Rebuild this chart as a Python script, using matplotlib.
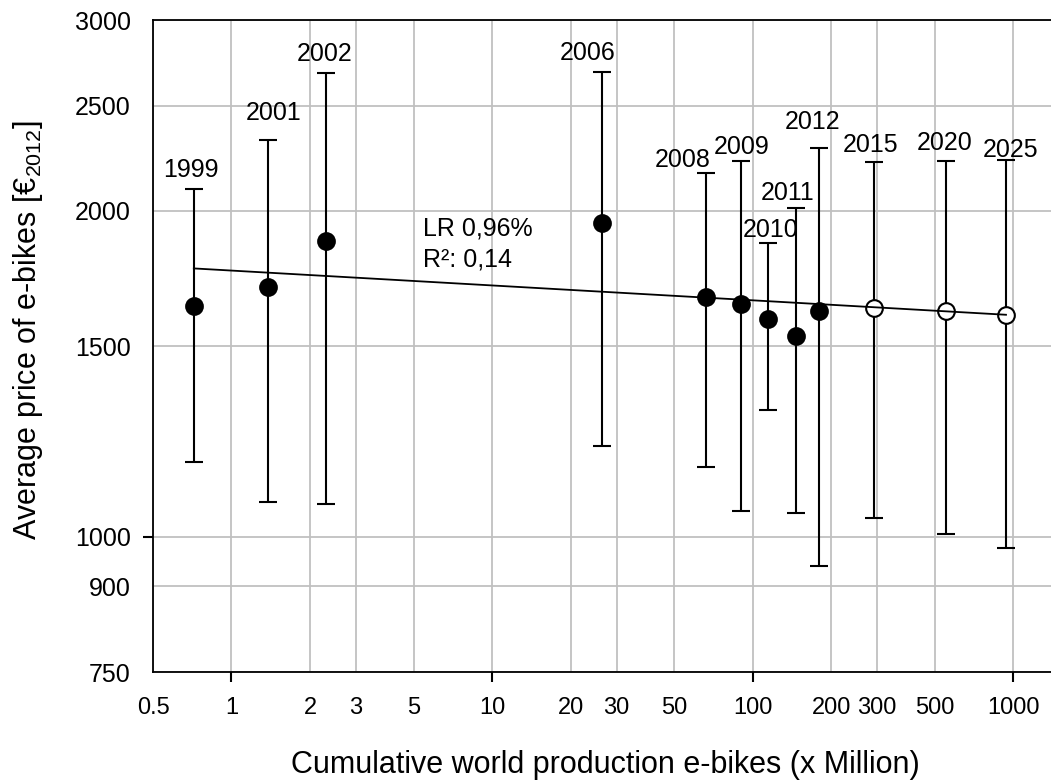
import matplotlib
matplotlib.use('Agg')
import matplotlib.pyplot as plt
from matplotlib.ticker import NullFormatter

plt.rcParams['font.family'] = ['Liberation Sans', 'DejaVu Sans']
plt.rcParams['mathtext.fontset'] = 'custom'
plt.rcParams['mathtext.rm'] = 'Liberation Sans'
plt.rcParams['mathtext.it'] = 'Liberation Sans:italic'

# data
years = ['1999', '2001', '2002', '2006', '2008', '2009', '2010', '2011', '2012',
         '2015', '2020', '2025']
production = [0.717, 1.38, 2.31, 26.3, 66.0, 89.9, 114, 146, 180, 292, 549, 936]
price = [1634, 1701, 1877, 1950, 1664, 1641, 1590, 1532, 1615, 1627, 1615, 1603]
price_high = [2096, 2323, 2682, 2688, 2167, 2224, 1869, 2012, 2285, 2217, 2224, 2227]
price_low = [1171, 1077, 1071, 1213, 1159, 1057, 1310, 1051, 940, 1040, 1005, 976]
forecast = [False] * 9 + [True] * 3

trend_x = [0.717, 936]
trend_y = [1769, 1603]

xtick_vals = [0.5, 1, 2, 3, 5, 10, 20, 30, 50, 100, 200, 300, 500, 1000]
xtick_labels = ['0.5', '1', '2', '3', '5', '10', '20', '30', '50', '100', '200', '300', '500', '1000']
ytick_vals = [750, 900, 1000, 1500, 2000, 2500, 3000]
ytick_labels = ['750', '900', '1000', '1500', '2000', '2500', '3000']

# label offsets in pixels (dx, dy) from the top cap
label_offsets = [(-3, 12), (6, 20), (-2, 12), (-14, 12), (-23, 6), (1, 7), (3, 6),
                 (-8, 8), (-7, 19), (-4, 10), (-1, 11), (5, 3)]

fig = plt.figure(figsize=(10.51, 7.80), dpi=100)
ax = fig.add_axes([153 / 1051, 1 - 672 / 780, 1 - 153 / 1051, (672 - 20) / 780])
ax.set_xscale('log')
ax.set_yscale('log')
ax.set_xlim(0.5, 1393)
ax.set_ylim(750, 3000)

yerr = [[p - lo for p, lo in zip(price, price_low)],
        [hi - p for p, hi in zip(price, price_high)]]
ax.errorbar(production, price, yerr=yerr, fmt='none', ecolor='black',
            elinewidth=1.5, capsize=6.5, capthick=1.5, zorder=2)

for x, y, fc in zip(production, price, forecast):
    ax.plot(x, y, 'o', ms=12, mfc='white' if fc else 'black', mec='black',
            mew=1.5, zorder=3)

ax.plot(trend_x, trend_y, color='black', lw=1.3, zorder=4)

for lab, x, hi, (dx, dy) in zip(years, production, price_high, label_offsets):
    ax.annotate(lab, xy=(x, hi), xytext=(dx, dy), textcoords='offset pixels',
                ha='center', va='baseline', fontsize=18)

ax.text(5.41, 1899, 'LR 0,96%', fontsize=18, va='baseline', ha='left')
ax.text(5.41, 1776, 'R²: 0,14', fontsize=18, va='baseline', ha='left')

ax.set_xticks(xtick_vals)
ax.set_xticklabels(xtick_labels)
ax.set_xticks([1, 10, 100, 1000], minor=True)
ax.xaxis.set_minor_formatter(NullFormatter())
ax.set_yticks(ytick_vals)
ax.set_yticklabels(ytick_labels)
ax.set_yticks([1000], minor=True)
ax.yaxis.set_minor_formatter(NullFormatter())
ax.xaxis.remove_overlapping_locs = False
ax.yaxis.remove_overlapping_locs = False

ax.tick_params(axis='x', which='major', length=0, pad=18, labelsize=17)
ax.tick_params(axis='y', which='major', length=0, pad=16, labelsize=18)
ax.tick_params(which='minor', length=7, width=1.5, direction='out', color='black')

ax.grid(which='major', color='#c0c0c0', lw=1.3)
ax.set_axisbelow(True)
ax.spines['right'].set_visible(False)
for s in ['left', 'top', 'bottom']:
    ax.spines[s].set_linewidth(1.3)

fig.text(605 / 1051, 1 - 773 / 780, 'Cumulative world production e-bikes (x Million)',
         ha='center', va='baseline', fontsize=22)
fig.text(28 / 1051, 1 - 330 / 780, r'Average price of e-bikes [€$_{\mathrm{2012}}$]',
         ha='center', va='center', rotation=90, fontsize=22)

fig.savefig('out.png', dpi=100)
